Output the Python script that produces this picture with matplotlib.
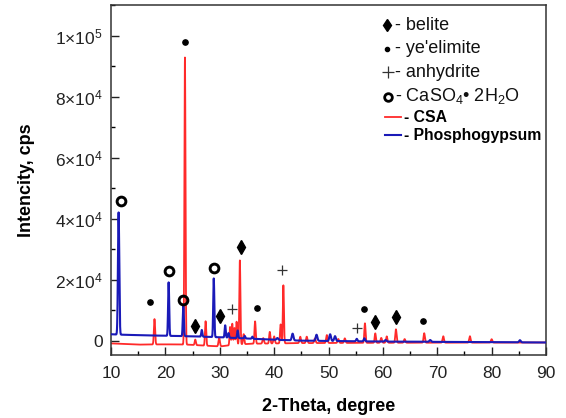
import numpy as np
import matplotlib
matplotlib.use("Agg")
import matplotlib.pyplot as plt
from matplotlib.ticker import FixedLocator, MultipleLocator

plt.rcParams['font.family'] = ['Liberation Sans', 'DejaVu Sans']
plt.rcParams['mathtext.fontset'] = 'custom'
plt.rcParams['mathtext.rm'] = 'Liberation Sans'
plt.rcParams['mathtext.it'] = 'Liberation Sans:italic'
plt.rcParams['mathtext.bf'] = 'Liberation Sans:bold'

# ---------------- data ----------------
# CSA pattern: peak positions (2-theta, deg) and heights above baseline (cps)
csa_pos = [18.0, 23.6, 25.5, 27.4, 29.9, 31.9, 32.3, 32.7, 33.1, 33.7, 34.4, 36.5,
           38.0, 39.2, 40.0, 41.2, 41.7, 44.8, 46.0, 47.5, 49.7, 51.8, 53.0,
           56.7, 58.6, 59.7, 60.7, 62.4, 64.0, 67.6, 71.1, 76.0, 80.0]
csa_h = [8300, 94000, 1800, 8000, 2800, 6000, 7000, 5500, 7500, 27500, 3300, 7300,
         1800, 3800, 2300, 6200, 19000, 2100, 2100, 1500, 2600, 1300, 1500,
         6400, 3100, 1600, 2100, 4400, 1200, 3100, 2100, 2100, 1100]
csa_w = [0.11, 0.10, 0.11, 0.11, 0.13, 0.10, 0.10, 0.10, 0.10, 0.10, 0.11, 0.11,
         0.13, 0.11, 0.13, 0.11, 0.10, 0.13, 0.13, 0.13, 0.13, 0.13, 0.13,
         0.11, 0.11, 0.13, 0.13, 0.12, 0.13, 0.12, 0.13, 0.13, 0.13]
csa_base_x = [10, 15, 20, 24, 27, 30, 33, 36, 45, 60, 90]
csa_base_y = [-800, -1200, -1100, -1200, -1500, -1800, -1200, -900, -700, -600, -500]

# Phosphogypsum pattern
pg_pos = [11.4, 20.6, 23.3, 26.7, 28.9, 31.0, 31.6, 33.3, 34.6, 36.0, 40.6, 43.4,
          47.8, 50.3, 51.2, 55.2, 56.6, 60.5, 68.7, 85.2]
pg_h = [40000, 17500, 9800, 2200, 19200, 4000, 1500, 2500, 800, 700, 600, 2200,
        2000, 2200, 1600, 800, 1000, 500, 600, 700]
pg_w = [0.12, 0.10, 0.10, 0.10, 0.10, 0.10, 0.10, 0.10, 0.10, 0.10, 0.15, 0.15,
        0.15, 0.15, 0.15, 0.12, 0.12, 0.15, 0.15, 0.15]
pg_base_x = [10, 11, 15, 20, 25, 30, 35, 40, 45, 60, 90]
pg_base_y = [2200, 2100, 1900, 1700, 1500, 1200, 800, 400, 100, -200, -500]

# phase markers (2-theta, intensity)
belite_x = [25.45, 30.05, 33.85, 58.55, 62.4]
belite_y = [4900, 8300, 30900, 6100, 8000]
yee_x = [17.2, 23.6, 36.85, 56.5, 67.4]
yee_y = [12800, 98000, 10800, 10500, 6600]
anh_x = [32.2, 41.5, 55.2]
anh_y = [10400, 23200, 4200]
gyp_x = [11.84, 20.7, 23.2, 28.94]
gyp_y = [45900, 22900, 13400, 23800]

xticks = [10, 20, 30, 40, 50, 60, 70, 80, 90]
yticks = [0, 20000, 40000, 60000, 80000, 100000]
ytick_labels = ['0', r'$2{\times}10^4$', r'$4{\times}10^4$', r'$6{\times}10^4$',
                r'$8{\times}10^4$', r'$1{\times}10^5$']


def pattern(pos, h, w, bx, by, x):
    y = np.interp(x, bx, by)
    for p, a, s in zip(pos, h, w):
        y = y + a * np.exp(-0.5 * ((x - p) / s) ** 2)
    return y


tt = np.arange(10.0, 90.0, 0.02)
csa = pattern(csa_pos, csa_h, csa_w, csa_base_x, csa_base_y, tt)
pg = pattern(pg_pos, pg_h, pg_w, pg_base_x, pg_base_y, tt)

RED = '#ff2a2a'
BLUE = '#1a1ab8'

# ---------------- figure ----------------
fig = plt.figure(figsize=(5.66, 4.18), dpi=100)
ax = fig.add_axes([0.1961, 0.1507, 0.7686, 0.8373])

ax.plot(tt, csa, color=RED, lw=1.3, zorder=2)
ax.plot(tt, pg, color=BLUE, lw=1.5, zorder=3)

ax.plot(belite_x, belite_y, linestyle='none', marker='d', ms=7.5, color='black', zorder=5)
ax.plot(yee_x, yee_y, linestyle='none', marker='o', ms=3.8, color='black', zorder=5)
ax.plot(anh_x, anh_y, linestyle='none', marker='+', ms=7.5, mew=0.9, color='#333333', zorder=5)
ax.plot(gyp_x, gyp_y, linestyle='none', marker='o', ms=6.3, mfc='none', mew=2.1,
        color='black', zorder=5)

ax.set_xlim(10, 90)
ax.set_ylim(-4600, 110000)
ax.xaxis.set_major_locator(FixedLocator(xticks))
ax.xaxis.set_minor_locator(MultipleLocator(5))
ax.yaxis.set_major_locator(FixedLocator(yticks))
ax.yaxis.set_minor_locator(MultipleLocator(10000))
ax.set_xticklabels([str(v) for v in xticks])
ax.set_yticklabels(ytick_labels)
ax.tick_params(which='major', direction='in', length=6, width=1, labelsize=12.5, pad=6,
               colors='#222222')
ax.tick_params(axis='x', which='major', pad=8)
ax.tick_params(which='minor', direction='in', length=3, width=1)
for s in ax.spines.values():
    s.set_linewidth(1.1)
    s.set_color('#333333')

ax.set_xlabel('2-Theta, degree', fontsize=13, fontweight='bold', labelpad=12)
ax.set_ylabel('Intencity, cps', fontsize=13, fontweight='bold', labelpad=14)

# ---------------- legend (hand placed) ----------------
def axc(px, py):
    return ((px - 111) / 435.0, (355 - py) / 350.0)

tr = ax.transAxes
rows = [(25, '- belite'), (48, "- ye'elimite"), (72, '- anhydrite'),
        (96, '- CaSO$_4$• 2H$_2$O')]
ax.plot(*axc(387, 25), marker='d', ms=6.5, color='black', transform=tr, clip_on=False)
ax.plot(*axc(387, 49), marker='o', ms=3, color='black', transform=tr, clip_on=False)
ax.plot(*axc(388, 72), marker='+', ms=8, mew=0.9, color='#333333', transform=tr, clip_on=False)
ax.plot(*axc(388, 97), marker='o', ms=5.5, mfc='none', mew=2, color='black', transform=tr,
        clip_on=False)
for py, t in rows:
    x0, y0 = axc(395, py)
    ax.text(x0, y0, t, transform=tr, fontsize=13, va='center', ha='left', color='#111111')

xa, ya = axc(385, 117)
xb, _ = axc(401, 117)
ax.plot([xa, xb], [ya, ya], color=RED, lw=1.3, transform=tr, clip_on=False)
xa, ya = axc(385, 135)
ax.plot([xa, xb], [ya, ya], color=BLUE, lw=1.5, transform=tr, clip_on=False)
x0, y0 = axc(404, 117)
ax.text(x0, y0, '- CSA', transform=tr, fontsize=11.3, fontweight='bold', va='center')
x0, y0 = axc(404, 135)
ax.text(x0, y0, '- Phosphogypsum', transform=tr, fontsize=11.3, fontweight='bold', va='center')

fig.savefig('out.png', dpi=100)
